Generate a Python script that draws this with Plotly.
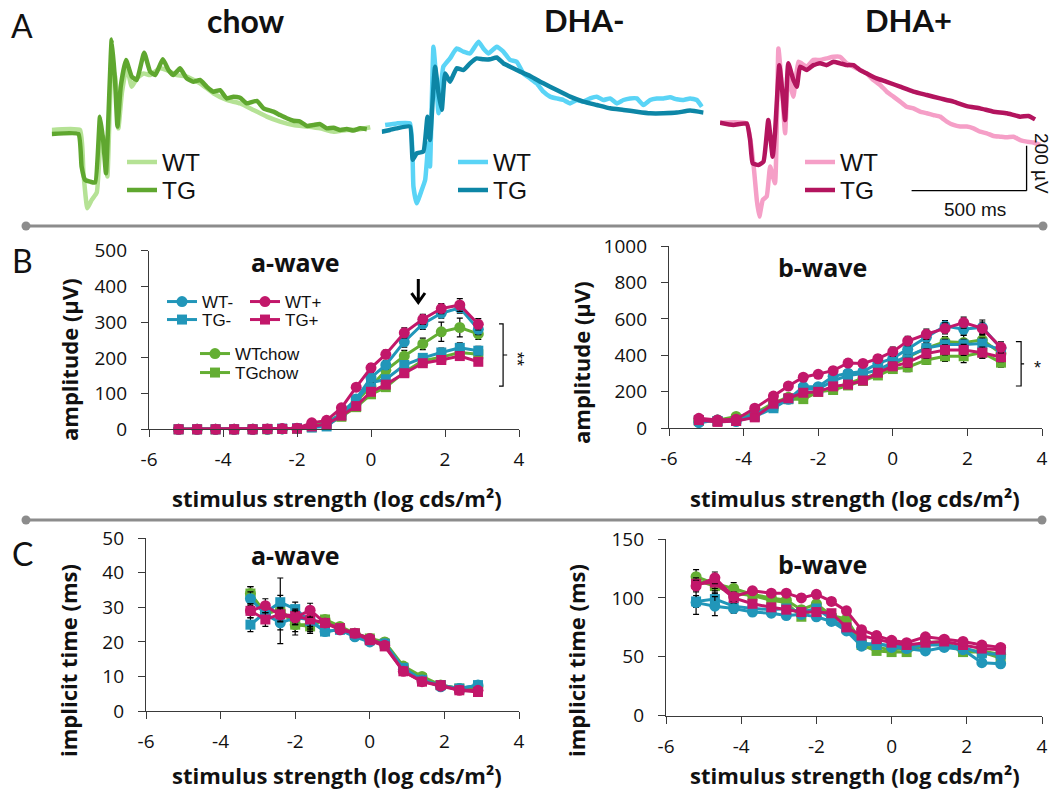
import plotly.graph_objects as go

W, H = 1055, 790


def fx(p):
    return p / W


def fy(p):
    return 1 - p / H


# ---------------- Panel A: representative ERG traces (time in ms, amplitude in µV) ----------------
CHOW_WT_T = [0, 123, 138, 155, 174, 196, 210, 225, 242, 261, 276, 290, 305, 326, 348, 370, 399, 428,
             471, 500, 544, 587, 645, 703, 761, 819, 877, 935, 993, 1051, 1109, 1167, 1225, 1283, 1341, 1385]
CHOW_WT_V = [15, 15, -178, -333, -296, -263, -74, -15, -192, 296, 252, 22, 178, 296, 207, 244, 266, 259,
             289, 281, 259, 252, 222, 178, 148, 133, 104, 74, 52, 37, 30, 22, 7, 15, 18, 27]
CHOW_TG_T = [0, 116, 130, 145, 167, 189, 210, 225, 236, 261, 276, 286, 300, 323, 348, 370, 402, 428,
             450, 483, 508, 529, 558, 587, 616, 645, 674, 703, 732, 761, 790, 819, 848, 892, 921, 964,
             993, 1022, 1051, 1080, 1109, 1138, 1167, 1196, 1225, 1254, 1283, 1312, 1341, 1370]
CHOW_TG_V = [-3, -3, -148, -207, -215, -219, 74, -44, -178, 417, 222, 30, 207, 326, 252, 237, 358, 274,
             259, 329, 281, 259, 289, 244, 229, 237, 207, 185, 192, 155, 163, 158, 133, 144, 111, 96,
             81, 67, 56, 52, 33, 37, 41, 22, 25, 15, 19, 12, 22, 18]

DHAM_WT_T = [15, 65, 123, 138, 152, 174, 189, 203, 210, 225, 236, 247, 268, 297, 326, 355, 384, 421,
             442, 464, 500, 529, 558, 587, 616, 645, 674, 703, 732, 761, 790, 819, 848, 877, 906, 935,
             964, 993, 1022, 1051, 1080, 1109, 1138, 1167, 1196, 1225, 1254, 1283, 1312, 1341, 1370, 1392]
DHAM_WT_V = [37, 44, 44, -237, -311, -252, -207, -44, -148, 385, 252, 89, 296, 333, 377, 363, 355, 407,
             377, 355, 385, 363, 326, 318, 266, 244, 222, 185, 163, 155, 148, 133, 148, 141, 155, 163,
             148, 155, 133, 148, 155, 155, 126, 148, 155, 155, 160, 151, 148, 155, 148, 118]
DHAM_TG_T = [0, 36, 65, 123, 135, 152, 181, 199, 210, 232, 247, 261, 276, 297, 326, 355, 384, 413,
             442, 471, 500, 529, 558, 602, 645, 703, 761, 819, 877, 935, 993, 1051, 1109, 1167, 1225, 1283,
             1341, 1399]
DHAM_TG_V = [7, 15, 22, 30, -118, -89, -81, 74, -30, 296, 178, 104, 266, 229, 289, 281, 311, 333,
             329, 329, 337, 311, 296, 274, 255, 222, 192, 163, 141, 126, 111, 104, 96, 89, 89, 92,
             101, 92]

DHAP_WT_T = [0, 116, 145, 160, 171, 186, 203, 218, 239, 254, 268, 283, 297, 319, 341, 377, 406, 435,
             464, 493, 522, 551, 580, 609, 638, 667, 696, 725, 754, 783, 812, 841, 870, 899, 928, 957,
             986, 1015, 1044, 1073, 1102, 1131, 1160, 1189, 1218, 1247, 1276, 1305, 1334, 1363, 1392]
DHAP_WT_V = [47, 44, -133, -296, -370, -296, -281, -148, -222, 377, 222, 0, 252, 163, 318, 296, 326, 326,
             333, 340, 340, 311, 296, 281, 266, 237, 215, 185, 163, 141, 118, 111, 96, 89, 81, 74,
             52, 37, 30, 30, 22, 7, 0, -12, -15, -18, -15, -30, -37, -41, -52]
DHAP_TG_T = [0, 58, 116, 131, 142, 167, 189, 210, 229, 239, 258, 273, 283, 297, 319, 334, 348, 377,
             406, 435, 464, 493, 522, 551, 580, 609, 638, 681, 725, 783, 841, 899, 957, 1015, 1073, 1131,
             1189, 1247, 1305, 1341, 1370]
DHAP_TG_V = [47, 37, 44, -30, -133, -141, -126, 59, -104, 0, 303, 163, 59, 311, 237, 207, 296, 281,
             303, 311, 303, 318, 311, 303, 303, 281, 266, 244, 229, 207, 185, 170, 155, 141, 121, 111,
             96, 89, 74, 77, 62]

# ---------------- Panels B & C: stimulus strength (log cds/m²) ----------------
STIM = [-5.2, -4.7, -4.2, -3.7, -3.2, -2.8, -2.4, -2.0, -1.6, -1.2, -0.8, -0.4, 0.0, 0.4, 0.9, 1.4, 1.9, 2.4, 2.9]
STIM_C_A = [-3.2, -2.8, -2.4, -2.0, -1.6, -1.2, -0.8, -0.4, 0.0, 0.4, 0.9, 1.4, 1.9, 2.4, 2.9]
X_TICKS = [-6, -4, -2, 0, 2, 4]
X_TICK_TEXT = ["-6", "-4", "-2", "0", "2", "4"]

# B a-wave amplitude (µV)
BA_WTM = [0, 0, 0, 0, 0, 0, 1, 2, 8, 15, 45, 85, 145, 180, 245, 295, 325, 340, 280]
BA_TGM = [0, 0, 0, 0, 0, 1, 2, 3, 5, 8, 40, 80, 130, 140, 180, 200, 215, 228, 220]
BA_WTP = [0, 0, 0, 0, 0, 1, 2, 3, 18, 25, 60, 118, 172, 210, 270, 308, 338, 348, 294]
BA_TGP = [0, 0, 0, 0, 0, 1, 1, 2, 8, 15, 38, 65, 105, 125, 157, 185, 194, 205, 189]
BA_WTC = [0, 0, 0, 0, 0, 0, 1, 2, 10, 20, 42, 78, 120, 165, 205, 239, 273, 285, 267]
BA_TGC = [0, 0, 0, 0, 0, 0, 1, 1, 6, 12, 35, 62, 98, 118, 160, 192, 202, 215, 210]
BA_WTM_E = [0, 0, 0, 0, 0, 0, 0, 1, 2, 3, 6, 10, 12, 12, 15, 15, 14, 15, 15]
BA_TGM_E = [0, 0, 0, 0, 0, 0, 0, 1, 2, 3, 5, 8, 10, 10, 12, 12, 12, 14, 12]
BA_WTP_E = [0, 0, 0, 0, 0, 0, 0, 1, 3, 4, 7, 10, 12, 12, 14, 14, 14, 18, 16]
BA_TGP_E = [0, 0, 0, 0, 0, 0, 0, 1, 2, 3, 5, 7, 8, 8, 9, 9, 10, 12, 10]
BA_WTC_E = [0, 0, 0, 0, 0, 0, 0, 1, 2, 3, 6, 10, 14, 14, 16, 16, 27, 26, 15]
BA_TGC_E = [0, 0, 0, 0, 0, 0, 0, 1, 2, 3, 5, 7, 9, 9, 10, 10, 11, 12, 11]

# B b-wave amplitude (µV)
BB_WTM = [31, 46, 37, 82, 119, 159, 228, 228, 285, 302, 311, 356, 384, 433, 499, 561, 543, 554, 439]
BB_TGM = [45, 40, 40, 65, 110, 160, 215, 215, 260, 290, 300, 320, 360, 395, 440, 460, 460, 465, 430]
BB_WTP = [55, 46, 50, 110, 177, 232, 280, 296, 316, 358, 356, 382, 420, 479, 516, 548, 580, 548, 444]
BB_TGP = [45, 35, 40, 60, 135, 165, 195, 200, 230, 240, 262, 305, 340, 360, 410, 430, 430, 415, 390]
BB_WTC = [40, 45, 65, 80, 140, 170, 170, 210, 215, 245, 275, 300, 350, 390, 440, 475, 470, 485, 410]
BB_TGC = [40, 40, 50, 70, 120, 160, 160, 200, 210, 235, 260, 290, 325, 335, 375, 395, 395, 415, 360]
BB_WTM_E = [8, 8, 8, 10, 12, 14, 16, 16, 18, 18, 20, 20, 22, 24, 26, 30, 30, 40, 25]
BB_TGM_E = [8, 8, 8, 10, 12, 14, 16, 16, 18, 18, 20, 20, 22, 24, 26, 28, 28, 30, 25]
BB_WTP_E = [10, 10, 10, 12, 15, 15, 18, 18, 20, 20, 20, 22, 25, 25, 28, 30, 30, 35, 30]
BB_TGP_E = [8, 8, 8, 10, 12, 14, 16, 16, 18, 18, 20, 20, 22, 24, 26, 28, 30, 30, 25]
BB_WTC_E = [8, 8, 8, 10, 12, 14, 16, 16, 18, 18, 20, 20, 22, 24, 26, 28, 40, 35, 25]
BB_TGC_E = [8, 8, 8, 10, 12, 14, 16, 16, 18, 18, 20, 20, 22, 24, 25, 28, 35, 30, 25]

# C a-wave implicit time (ms)
CA_WTM = [32.5, 28, 25.5, 27, 26.5, 23, 23.5, 21.5, 20, 19.5, 12, 9, 7, 6.5, 7.5]
CA_TGM = [25, 28.5, 31.5, 29.5, 26, 23, 23.5, 22, 20.5, 19.5, 12.5, 9, 7.5, 6.5, 7.5]
CA_WTP = [29, 30.5, 27.8, 27, 29.2, 25.5, 23.5, 22.5, 21, 19, 11.5, 8.5, 7.2, 6, 6]
CA_TGP = [29, 26.5, 28, 27.5, 26.5, 25.5, 24, 22.5, 20.5, 18.7, 11.5, 8.5, 7.5, 6, 5.5]
CA_WTC = [34, 28.5, 29, 25, 25, 26.5, 24.5, 22.5, 21, 20, 13, 10, 7.5, 6.5, 7]
CA_TGC = [34, 28, 29.5, 25, 24.5, 26.5, 24, 22.5, 21, 19.5, 12.5, 9.5, 7.5, 6.5, 6.5]
CA_WTM_E = [2, 2, 2, 2, 2, 1, 1, 1, 1, 1, 1, 1, 0.5, 0.5, 0.5]
CA_TGM_E = [2, 2, 2, 2, 2, 1, 1, 1, 1, 1, 1, 1, 0.5, 0.5, 0.5]
CA_WTP_E = [2, 2, 2, 2, 2, 1, 1, 1, 1, 1, 1, 1, 0.5, 0.5, 0.5]
CA_TGP_E = [2, 2, 2, 2, 3, 1, 1, 1, 1, 1, 1, 1, 0.5, 0.5, 0.5]
CA_WTC_E = [2, 2, 9.5, 3, 2, 1, 1, 1, 1, 1, 1, 1, 0.5, 0.5, 0.5]
CA_TGC_E = [2, 2, 2, 2, 2, 1, 1, 1, 1, 1, 1, 1, 0.5, 0.5, 0.5]

# C b-wave implicit time (ms)
CB_WTM = [96, 93, 91, 88, 87, 85, 86, 84, 80, 72, 59, 62, 58, 57, 55, 58, 56, 45, 44]
CB_TGM = [97, 99, 93, 91, 90, 91, 88, 91, 82, 74, 62, 60, 60, 58, 60, 60, 58, 53, 52]
CB_WTP = [110, 117, 101, 106, 104, 104, 100, 103, 97, 89, 73, 68, 64, 62, 67, 65, 63, 60, 58]
CB_TGP = [112, 113, 100, 95, 92, 90, 88, 88, 87, 75, 68, 65, 62, 60, 62, 63, 60, 57, 56]
CB_WTC = [118, 112, 108, 103, 100, 98, 90, 95, 85, 82, 62, 58, 56, 57, 62, 63, 55, 55, 52]
CB_TGC = [115, 110, 104, 102, 98, 96, 84, 92, 83, 80, 60, 55, 54, 54, 60, 62, 54, 54, 49]
CB_WTM_E = [10, 8, 4, 3, 3, 3, 3, 3, 3, 3, 2, 2, 2, 2, 2, 2, 2, 2, 2]
CB_TGM_E = [5, 5, 4, 3, 3, 3, 3, 3, 3, 3, 2, 2, 2, 2, 2, 4, 2, 2, 2]
CB_WTP_E = [5, 5, 4, 3, 3, 3, 3, 3, 3, 3, 2, 3, 2, 2, 2, 2, 2, 2, 2]
CB_TGP_E = [5, 5, 4, 3, 3, 3, 3, 3, 3, 3, 2, 2, 2, 2, 2, 2, 2, 2, 2]
CB_WTC_E = [6, 6, 5, 3, 3, 3, 3, 3, 3, 3, 2, 2, 2, 2, 2, 2, 2, 2, 2]
CB_TGC_E = [6, 6, 5, 3, 3, 3, 3, 3, 3, 3, 2, 2, 2, 2, 2, 2, 2, 2, 2]

# ---------------- styling ----------------
CHOW_LIGHT, CHOW_DARK = "#b5e295", "#5fa72f"
DHAM_LIGHT, DHAM_DARK = "#5ad4f6", "#0d86a6"
DHAP_LIGHT, DHAP_DARK = "#f59fc7", "#b3145e"
TEAL, MAG, GREEN = "#2196b9", "#c2176a", "#64ae33"
AXC = "#3a3a3a"
TXT = "#111111"
TICK_FONT = dict(family="Open Sans", size=19, color=TXT)

fig = go.Figure()

# ---------------- Panel A traces ----------------
A_PANELS = [
    ("x", "y", CHOW_WT_T, CHOW_WT_V, CHOW_TG_T, CHOW_TG_V, CHOW_LIGHT, CHOW_DARK, "legend", "legend2"),
    ("x2", "y2", DHAM_WT_T, DHAM_WT_V, DHAM_TG_T, DHAM_TG_V, DHAM_LIGHT, DHAM_DARK, "legend3", "legend4"),
    ("x3", "y3", DHAP_WT_T, DHAP_WT_V, DHAP_TG_T, DHAP_TG_V, DHAP_LIGHT, DHAP_DARK, "legend5", "legend6"),
]
for xa, ya, tw, vw, tt, vt, cl, cd, lw, lt in A_PANELS:
    fig.add_trace(go.Scatter(x=tw, y=vw, mode="lines", name="WT",
                             line=dict(color=cl, width=4.5, shape="spline", smoothing=0.4),
                             xaxis=xa, yaxis=ya, legend=lw, hoverinfo="skip", cliponaxis=False))
    fig.add_trace(go.Scatter(x=tt, y=vt, mode="lines", name="TG",
                             line=dict(color=cd, width=4.5, shape="spline", smoothing=0.4),
                             xaxis=xa, yaxis=ya, legend=lt, hoverinfo="skip", cliponaxis=False))

# ---------------- Panels B & C ----------------
SERIES = [  # name, color, symbol, legend id (only in B a-wave)
    ("TGchow", GREEN, "square", "legend12"),
    ("WTchow", GREEN, "circle", "legend11"),
    ("TG-", TEAL, "square", "legend8"),
    ("WT-", TEAL, "circle", "legend7"),
    ("TG+", MAG, "square", "legend10"),
    ("WT+", MAG, "circle", "legend9"),
]
BA = {"WT-": (BA_WTM, BA_WTM_E), "TG-": (BA_TGM, BA_TGM_E), "WT+": (BA_WTP, BA_WTP_E),
      "TG+": (BA_TGP, BA_TGP_E), "WTchow": (BA_WTC, BA_WTC_E), "TGchow": (BA_TGC, BA_TGC_E)}
BB = {"WT-": (BB_WTM, BB_WTM_E), "TG-": (BB_TGM, BB_TGM_E), "WT+": (BB_WTP, BB_WTP_E),
      "TG+": (BB_TGP, BB_TGP_E), "WTchow": (BB_WTC, BB_WTC_E), "TGchow": (BB_TGC, BB_TGC_E)}
CA = {"WT-": (CA_WTM, CA_WTM_E), "TG-": (CA_TGM, CA_TGM_E), "WT+": (CA_WTP, CA_WTP_E),
      "TG+": (CA_TGP, CA_TGP_E), "WTchow": (CA_WTC, CA_WTC_E), "TGchow": (CA_TGC, CA_TGC_E)}
CB = {"WT-": (CB_WTM, CB_WTM_E), "TG-": (CB_TGM, CB_TGM_E), "WT+": (CB_WTP, CB_WTP_E),
      "TG+": (CB_TGP, CB_TGP_E), "WTchow": (CB_WTC, CB_WTC_E), "TGchow": (CB_TGC, CB_TGC_E)}

PANELS_BC = [
    ("x4", "y4", STIM, BA, True),
    ("x5", "y5", STIM, BB, False),
    ("x6", "y6", STIM_C_A, CA, False),
    ("x7", "y7", STIM, CB, False),
]
for xa, ya, xs, data, with_leg in PANELS_BC:
    for name, col, sym, leg in SERIES:
        vals, errs = data[name]
        fig.add_trace(go.Scatter(
            x=xs, y=vals, mode="lines+markers", name=name,
            line=dict(color=col, width=3),
            marker=dict(color=col, symbol=sym, size=11 if sym == "circle" else 10, line=dict(width=0)),
            error_y=dict(type="data", array=errs, color="black", thickness=1.2, width=3),
            xaxis=xa, yaxis=ya, showlegend=with_leg, legend=leg, hoverinfo="skip", cliponaxis=False))

# ---------------- axes ----------------
layout = dict(width=W, height=H, margin=dict(l=0, r=0, t=0, b=0, pad=0, autoexpand=False),
              paper_bgcolor="white", plot_bgcolor="white", showlegend=True)

A_X = [(51.7, 373.7), (381.7, 703.7), (720, 1042)]
for i, (a, b) in enumerate(A_X, start=1):
    sfx = "" if i == 1 else str(i)
    layout["xaxis" + sfx] = dict(domain=[fx(a), fx(b)], range=[0, 1400], visible=False,
                                 anchor="y" + sfx, fixedrange=True)
    layout["yaxis" + sfx] = dict(domain=[fy(223.3), fy(34.3)], range=[-400, 440], visible=False,
                                 anchor="x" + sfx, fixedrange=True)


def xaxis(dom, anchor):
    return dict(domain=[fx(dom[0]), fx(dom[1])], range=[-6, 4], anchor=anchor,
                tickvals=X_TICKS, ticktext=X_TICK_TEXT, showline=True, linecolor=AXC, linewidth=1.3,
                ticks="outside", ticklen=7, tickwidth=1.3, tickcolor=AXC, showgrid=False,
                zeroline=False, tickfont=TICK_FONT, ticklabelstandoff=6, fixedrange=True)


def yaxis(dom, rng, step, anchor):
    vals = list(range(0, rng + 1, step))
    return dict(domain=[fy(dom[1]), fy(dom[0])], range=[0, rng], anchor=anchor,
                tickvals=vals, ticktext=[str(v) for v in vals], showline=True, linecolor=AXC,
                linewidth=1.3, ticks="outside", ticklen=7, tickwidth=1.3, tickcolor=AXC,
                showgrid=False, zeroline=False, tickfont=TICK_FONT, ticklabelstandoff=10,
                fixedrange=True)


layout["xaxis4"] = xaxis((149, 519), "y4")
layout["yaxis4"] = yaxis((250.7, 429.3), 500, 100, "x4")
layout["xaxis5"] = xaxis((669, 1042), "y5")
layout["yaxis5"] = yaxis((246, 428.3), 1000, 200, "x5")
layout["xaxis6"] = xaxis((146, 519), "y6")
layout["yaxis6"] = yaxis((538.3, 711), 50, 10, "x6")
layout["xaxis7"] = xaxis((666, 1042), "y7")
layout["yaxis7"] = yaxis((539, 715.7), 150, 50, "x7")


# ---------------- legends ----------------
def leg(x, y, size):
    return dict(x=fx(x), y=fy(y), xanchor="left", yanchor="middle", bgcolor="rgba(0,0,0,0)",
                borderwidth=0, font=dict(family="Liberation Sans", size=size, color=TXT),
                itemclick=False, itemdoubleclick=False)


layout["legend"] = leg(122, 162, 24.5)
layout["legend2"] = leg(122, 190, 24.5)
layout["legend3"] = leg(453, 162, 24.5)
layout["legend4"] = leg(453, 190, 24.5)
layout["legend5"] = leg(800, 162, 24.5)
layout["legend6"] = leg(800, 190, 24.5)
layout["legend7"] = leg(162, 302, 17)
layout["legend8"] = leg(162, 320, 17)
layout["legend9"] = leg(245, 302, 17)
layout["legend10"] = leg(245, 320, 17)
layout["legend11"] = leg(195, 354, 17)
layout["legend12"] = leg(195, 373, 17)

fig.update_layout(**layout)


# ---------------- text ----------------
def ann(text, x, y, size, family="Open Sans", bold=False, angle=0):
    fig.add_annotation(text=f"<b>{text}</b>" if bold else text, x=fx(x), y=fy(y), xref="paper",
                       yref="paper", showarrow=False, textangle=angle, xanchor="center",
                       yanchor="middle", font=dict(family=family, size=size, color=TXT))


ann("A", 22, 26, 32, family="Lato")
ann("B", 22, 260, 32, family="Lato")
ann("C", 22, 553, 32, family="Lato")
ann("chow", 246, 20, 32, family="Lato", bold=True)
ann("DHA-", 584, 20, 31, family="Lato", bold=True)
ann("DHA+", 908, 20, 31, family="Lato", bold=True)

ann("a-wave", 295, 262, 25, bold=True)
ann("b-wave", 822, 267, 25, bold=True)
ann("a-wave", 295, 555, 25, bold=True)
ann("b-wave", 822, 564, 25, bold=True)

XT = "stimulus strength (log cds/m²)"
ann(XT, 337, 498, 22, bold=True)
ann(XT, 855, 498, 22, bold=True)
ann(XT, 337, 775, 22, bold=True)
ann(XT, 855, 775, 22, bold=True)
ann("amplitude (µV)", 69, 360, 22, bold=True, angle=-90)
ann("amplitude (µV)", 581, 363, 22, bold=True, angle=-90)
ann("implicit time (ms)", 68, 661, 22, bold=True, angle=-90)
ann("implicit time (ms)", 576, 661, 22, bold=True, angle=-90)

ann("500 ms", 975, 210, 19, family="Liberation Sans")
ann("200 µV", 1042, 163, 19, family="Liberation Sans", angle=90)
ann("**", 517, 359, 18, family="Liberation Sans", angle=90)
ann("*", 1037, 368, 18, family="Liberation Sans")


def P(x, y):
    return f"{fx(x):.5f},{fy(y):.5f}"


# arrow marking the highlighted intensity (open V head)
fig.add_shape(type="path", xref="paper", yref="paper",
              path=f"M {P(418.3, 279)} L {P(418.3, 302)} M {P(411.5, 293)} L {P(418.3, 302.5)} L {P(425, 293)}",
              line=dict(color="black", width=3))

# ---------------- shapes: separators, scale bar, brackets ----------------
GRAY = "#8c8c8c"
for yy, x0, x1 in [(226, 26, 1043), (520, 26, 1042)]:
    fig.add_shape(type="line", xref="paper", yref="paper", x0=fx(x0), x1=fx(x1), y0=fy(yy), y1=fy(yy),
                  line=dict(color=GRAY, width=3))
    for xc in (x0, x1):
        fig.add_shape(type="circle", xref="paper", yref="paper", x0=fx(xc - 4.5), x1=fx(xc + 4.5),
                      y0=fy(yy + 4.5), y1=fy(yy - 4.5), fillcolor=GRAY, line=dict(width=0))

# scale bar (500 ms, 200 µV) in DHA+ axes
fig.add_shape(type="line", xref="x3", yref="y3", x0=833, x1=1333, y0=-255, y1=-255,
              line=dict(color="black", width=1.3))
fig.add_shape(type="line", xref="x3", yref="y3", x0=1333, x1=1333, y0=-255, y1=-55,
              line=dict(color="black", width=1.3))

# significance brackets
for xr, yr, xl, xv, xrgt, ytop, ybot, ymid in [("x4", "y4", 3.46, 3.57, 3.68, 295, 121, 208),
                                               ("x5", "y5", 3.30, 3.44, 3.52, 475, 232, 353)]:
    path = (f"M {xl},{ytop} L {xv},{ytop} L {xv},{ybot} L {xl},{ybot} "
            f"M {xv},{ymid} L {xrgt},{ymid}")
    fig.add_shape(type="path", xref=xr, yref=yr, path=path, line=dict(color="black", width=1.2))

fig.write_html("out.html", config={"displayModeBar": False},
               post_script="document.body.style.margin='0px';")
